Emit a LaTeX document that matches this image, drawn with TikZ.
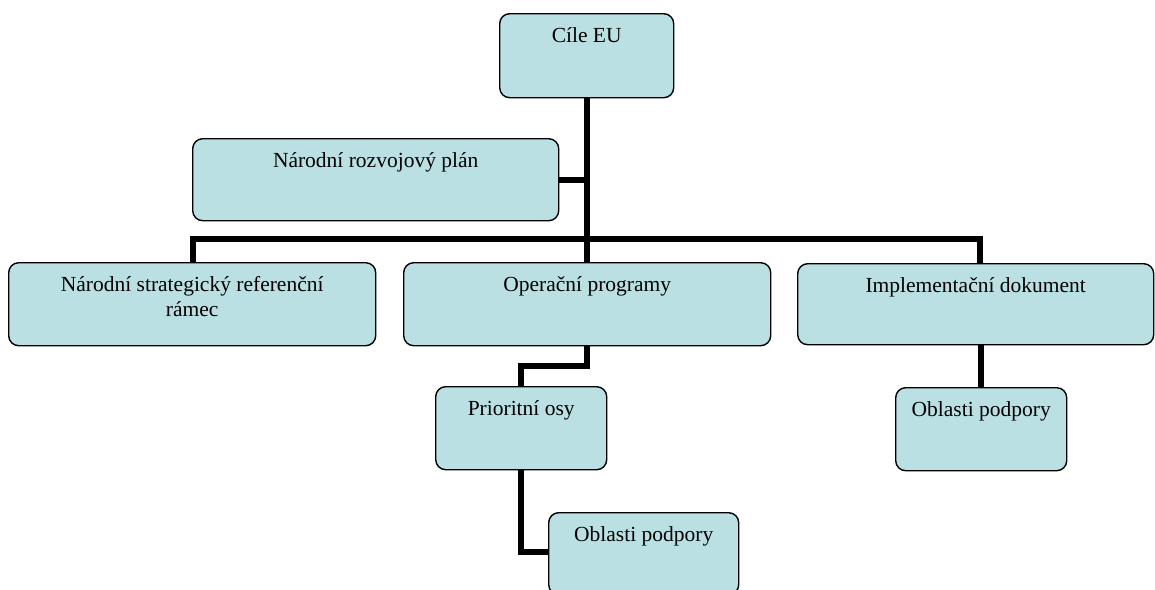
\documentclass[tikz,border=0pt]{standalone}
\usepackage{fontspec}
\usetikzlibrary{calc}
\setmainfont{Liberation Serif}
\definecolor{boxfill}{RGB}{187,224,227}
\begin{document}
\begin{tikzpicture}[x=1pt,y=-1pt,
  box/.style={draw=black, line width=1.4pt, fill=boxfill, rounded corners=10pt, anchor=north west, inner sep=0pt},
  lab/.style={anchor=base, yshift=-29pt, font=\fontsize{21.5}{25}\selectfont, inner sep=0pt},
  conn/.style={line width=6pt, draw=black}]
\useasboundingbox (0,0) rectangle (1155,589);
\coordinate (barL) at (193,239);
\coordinate (barR) at (980,239);
\node[box, minimum width=174pt, minimum height=84pt, label={[lab]north:Cíle EU}] (cile) at (499,13) {};
\node[box, minimum width=366pt, minimum height=82pt, label={[lab]north:Národní rozvojový plán}] (nrp) at (192,138) {};
\node[box, minimum width=367pt, minimum height=83pt, label={[lab]north:\parbox[t]{360pt}{\centering Národní strategický referenční\\rámec}}] (nsrr) at (8,262) {};
\node[box, minimum width=367pt, minimum height=83pt, label={[lab]north:Operační programy}] (op) at (403,262) {};
\node[box, minimum width=356pt, minimum height=81pt, label={[lab]north:Implementační dokument}] (id) at (797,263) {};
\node[box, minimum width=171pt, minimum height=83pt, label={[lab]north:Prioritní osy}] (po) at (435,386) {};
\node[box, minimum width=190pt, minimum height=82pt, label={[lab]north:Oblasti podpory}] (ob1) at (548,512) {};
\node[box, minimum width=171pt, minimum height=83pt, label={[lab]north:Oblasti podpory}] (ob2) at (895,387) {};
\coordinate (j1) at ($(po.south)+(0,81.5)$);
\draw[conn] (cile.south) -- (cile.south |- op.north);
\draw[conn] (nrp.east) -- (nrp.east -| cile.south);
\draw[conn] (barL |- nsrr.north) -- (barL) -- (barR) -- (barR |- id.north);
\draw[conn] (cile.south |- op.south) -- ++(0,20) -| (po.north);
\draw[conn] (po.south) -- (j1) -- (j1 -| ob1.west);
\draw[conn] (ob2.north) -- (ob2.north |- id.south);
\end{tikzpicture}
\end{document}
